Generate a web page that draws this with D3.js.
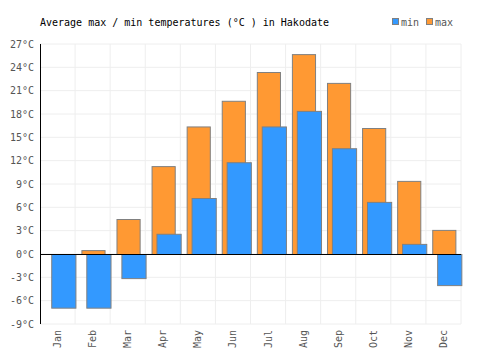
<!DOCTYPE html>
<html>
<head>
<meta charset="utf-8">
<script src="https://cdn.jsdelivr.net/npm/d3@7"></script>
<style>
  body { margin: 0; background: #fff; }
  text { font-family: "DejaVu Sans Mono", monospace; font-size: 10px; }
</style>
</head>
<body>
<svg id="chart" width="500" height="350"></svg>
<script>
const months = ["Jan", "Feb", "Mar", "Apr", "May", "Jun", "Jul", "Aug", "Sep", "Oct", "Nov", "Dec"];
const minTemps = [-6.9, -6.9, -3.1, 2.6, 7.2, 11.8, 16.4, 18.4, 13.6, 6.7, 1.3, -4.0];
const maxTemps = [0, 0.5, 4.5, 11.3, 16.4, 19.7, 23.4, 25.7, 22.0, 16.2, 9.4, 3.1];
const yTicks = [-9, -6, -3, 0, 3, 6, 9, 12, 15, 18, 21, 24, 27];

const svg = d3.select("#chart");
const margin = { left: 40, right: 39, top: 44, bottom: 26 };
const width = 500, height = 350;

const x = d3.scaleBand()
  .domain(months)
  .range([margin.left, width - margin.right])
  .padding(0);

const y = d3.scaleLinear()
  .domain([-9, 27])
  .range([height - margin.bottom, margin.top]);

const bw = x.bandwidth();

// grid
svg.append("g")
  .selectAll("line")
  .data(yTicks)
  .enter().append("line")
  .attr("x1", margin.left).attr("x2", width - margin.right)
  .attr("y1", d => y(d)).attr("y2", d => y(d))
  .attr("stroke", "#eeeeee");

svg.append("g")
  .selectAll("line")
  .data(months)
  .enter().append("line")
  .attr("x1", d => x(d) + bw).attr("x2", d => x(d) + bw)
  .attr("y1", y(27)).attr("y2", y(-9))
  .attr("stroke", "#eeeeee");

// bars (max behind, min in front)
svg.append("g")
  .selectAll("rect")
  .data(maxTemps)
  .enter().append("rect")
  .attr("x", (d, i) => x(months[i]) + bw * 0.18 + 0.5)
  .attr("width", bw * 0.66)
  .attr("y", d => y(Math.max(0, d)) + 0.5)
  .attr("height", d => Math.abs(y(d) - y(0)))
  .attr("fill", "#ff9933")
  .attr("stroke", "#808080")
  .style("display", d => d === 0 ? "none" : null);

svg.append("g")
  .selectAll("rect")
  .data(minTemps)
  .enter().append("rect")
  .attr("x", (d, i) => x(months[i]) + bw * 0.32 + 0.5)
  .attr("width", bw * 0.69)
  .attr("y", d => y(Math.max(0, d)) + 0.5)
  .attr("height", d => Math.abs(y(d) - y(0)))
  .attr("fill", "#3399ff")
  .attr("stroke", "#808080");

// axis lines
svg.append("line")
  .attr("x1", margin.left).attr("x2", width - margin.right)
  .attr("y1", Math.round(y(0)) + 0.5).attr("y2", Math.round(y(0)) + 0.5)
  .attr("stroke", "#000");
svg.append("line")
  .attr("x1", margin.left + 0.5).attr("x2", margin.left + 0.5)
  .attr("y1", y(27)).attr("y2", y(-9))
  .attr("stroke", "#000");

// y labels
svg.append("g")
  .selectAll("text")
  .data(yTicks)
  .enter().append("text")
  .attr("x", 34)
  .attr("y", d => y(d))
  .attr("dy", "0.35em")
  .attr("text-anchor", "end")
  .attr("fill", "#555")
  .text(d => d + "°C");

// x labels
svg.append("g")
  .selectAll("text")
  .data(months)
  .enter().append("text")
  .attr("transform", d => `translate(${x(d) + bw / 2},330) rotate(-90)`)
  .attr("dy", "0.35em")
  .attr("text-anchor", "end")
  .attr("fill", "#555")
  .text(d => d);

// title
svg.append("text")
  .attr("x", 40).attr("y", 26)
  .attr("fill", "#000")
  .text("Average max / min temperatures (°C ) in Hakodate");

// legend
const legend = [{ name: "min", color: "#3399ff", x: 392 }, { name: "max", color: "#ff9933", x: 426 }];
legend.forEach(l => {
  svg.append("rect")
    .attr("x", l.x + 0.5).attr("y", 18.5)
    .attr("width", 6).attr("height", 6)
    .attr("fill", l.color).attr("stroke", "#808080");
  svg.append("text")
    .attr("x", l.x + 9).attr("y", 26)
    .attr("fill", "#555")
    .text(l.name);
});
</script>
</body>
</html>
